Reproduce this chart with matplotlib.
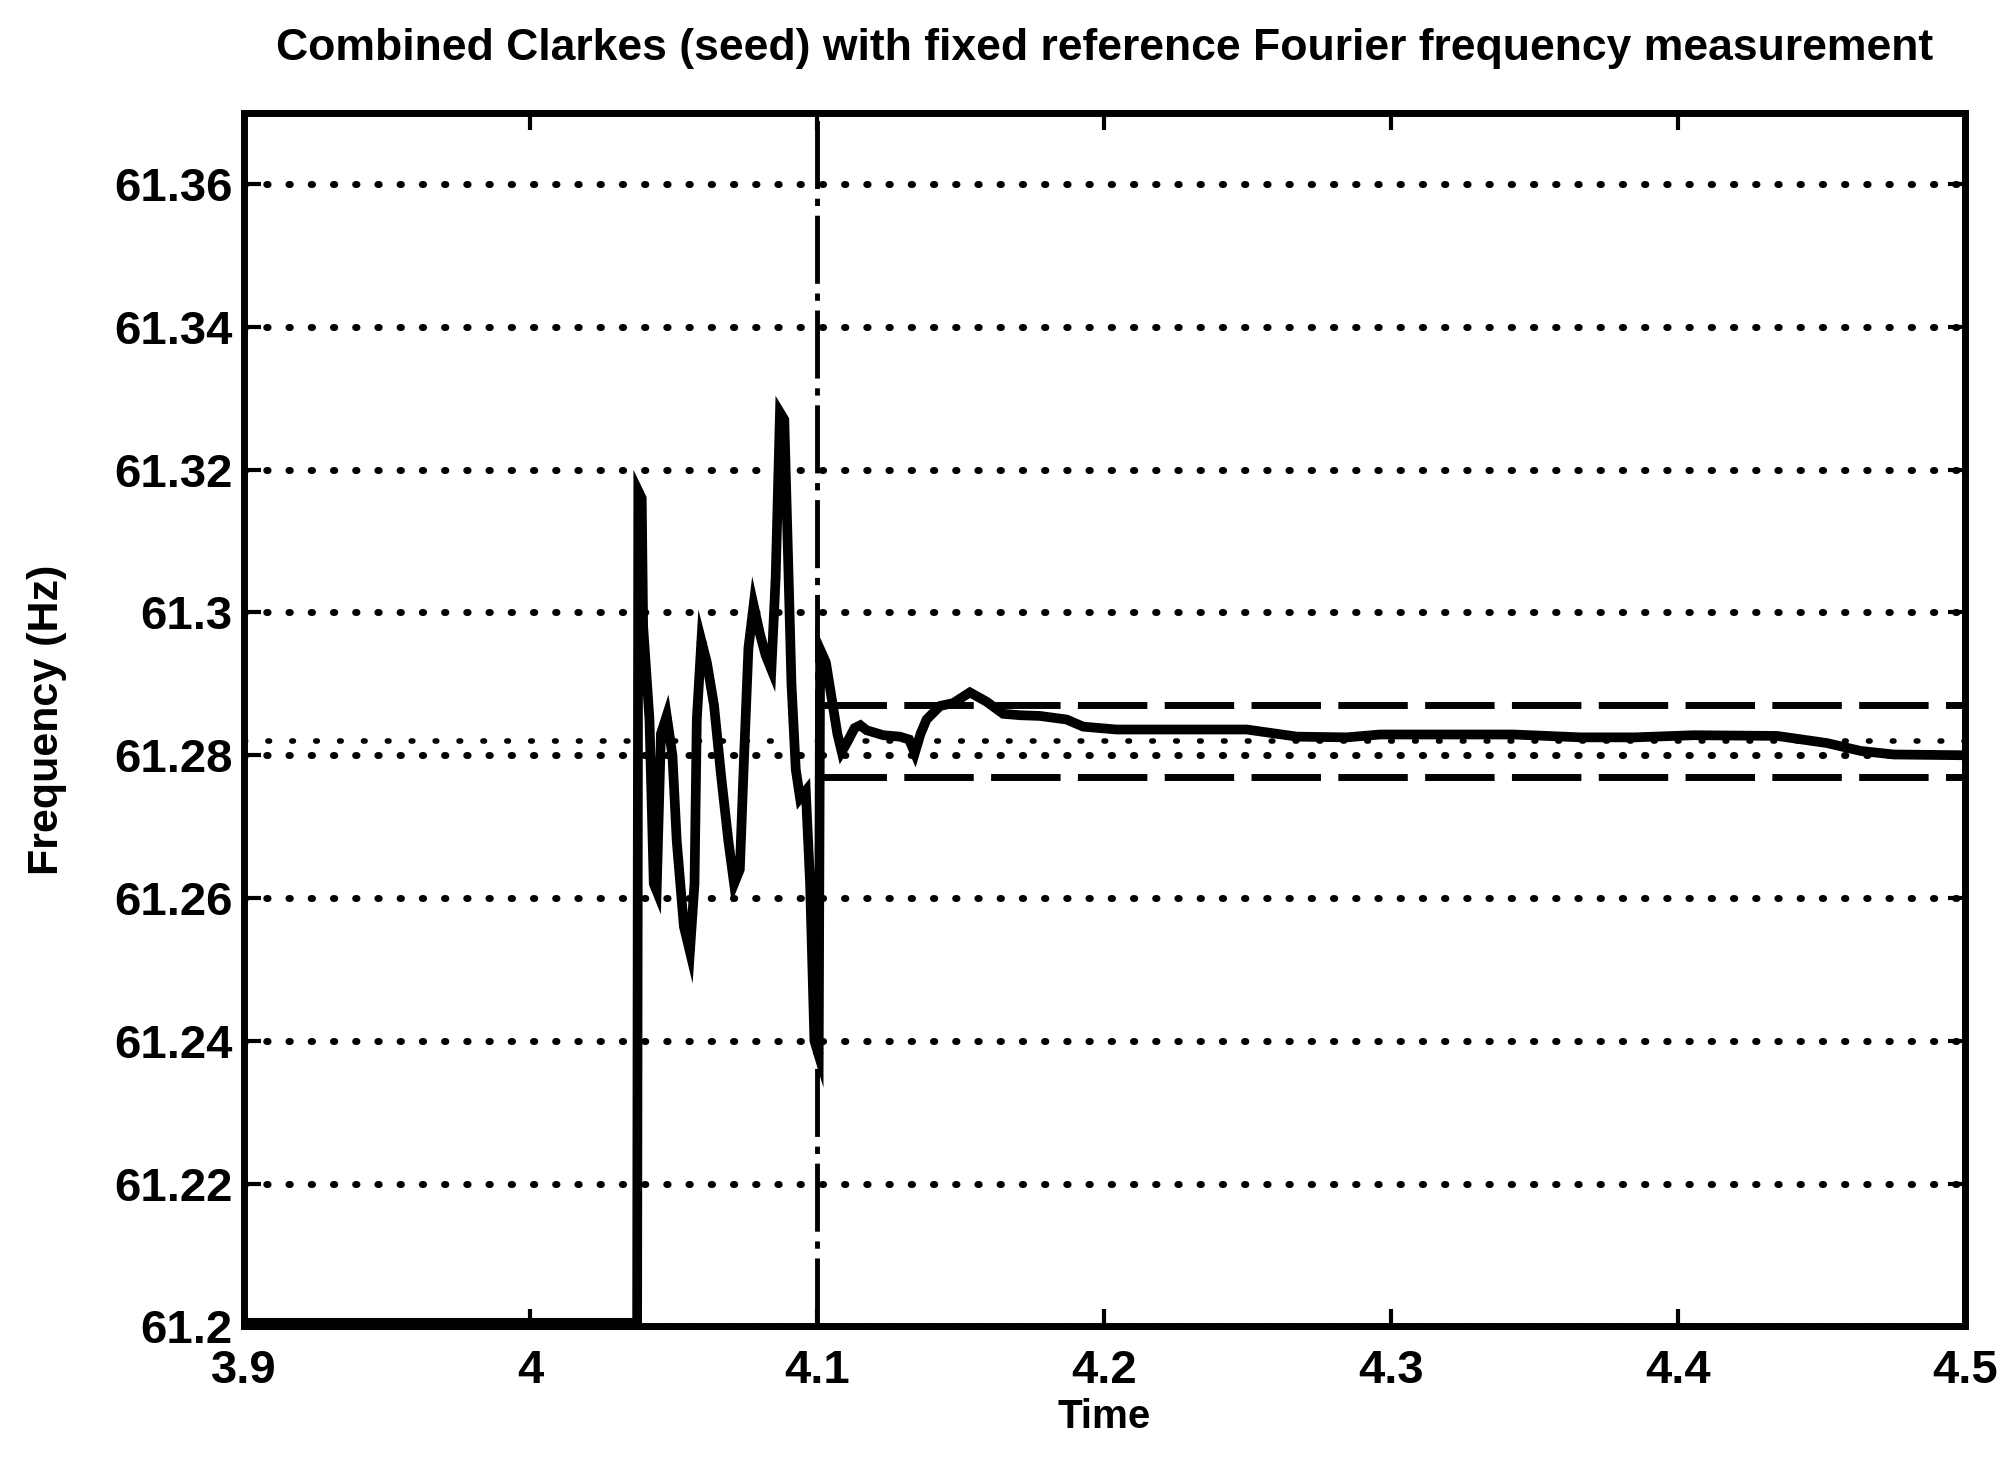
import matplotlib
matplotlib.use("Agg")
import matplotlib.pyplot as plt

plt.rcParams['font.family'] = ['Liberation Sans', 'DejaVu Sans']
plt.rcParams['font.weight'] = 'bold'

t = [3.900, 4.0372, 4.0376, 4.0388, 4.0393, 4.0415, 4.0430, 4.0440, 4.0455, 4.0475,
     4.0495, 4.0510, 4.0535, 4.0556, 4.0572, 4.0580, 4.0596, 4.0615, 4.0640, 4.0665,
     4.0690, 4.0710, 4.0730, 4.0745, 4.0760, 4.0778, 4.0800, 4.0820, 4.0840, 4.0855,
     4.0870, 4.0885, 4.0900, 4.0910, 4.0925, 4.0940, 4.0960, 4.0975, 4.0990, 4.1005,
     4.1010, 4.1030, 4.1050, 4.1070, 4.1085, 4.1100, 4.1130, 4.1150, 4.1172, 4.1230,
     4.1288, 4.1320, 4.1340, 4.1360, 4.1381, 4.1428, 4.1474, 4.1532, 4.1590, 4.1648,
     4.1707, 4.1776, 4.1869, 4.1927, 4.2043, 4.2160, 4.2334, 4.2497, 4.2672, 4.2846,
     4.2962, 4.3195, 4.3427, 4.3660, 4.3850, 4.4055, 4.4346, 4.4520, 4.4637, 4.4753,
     4.4985, 4.5000]
freq = [61.2005, 61.2005, 61.317, 61.316, 61.298, 61.285, 61.262, 61.261, 61.283, 61.2855,
        61.280, 61.268, 61.256, 61.2525, 61.262, 61.285, 61.296, 61.293, 61.287, 61.277,
        61.268, 61.262, 61.264, 61.280, 61.295, 61.301, 61.297, 61.294, 61.292, 61.305,
        61.328, 61.327, 61.305, 61.290, 61.278, 61.274, 61.275, 61.262, 61.240, 61.238,
        61.2948, 61.293, 61.288, 61.283, 61.2805, 61.2815, 61.2838, 61.2842, 61.2835, 61.2828,
        61.2826, 61.2822, 61.2803, 61.2830, 61.2850, 61.2869, 61.2873, 61.2888, 61.2875, 61.2858,
        61.2856, 61.2855, 61.2850, 61.2840, 61.2836, 61.2836, 61.2836, 61.2836, 61.2826, 61.2825,
        61.2829, 61.2829, 61.2829, 61.2825, 61.2825, 61.2828, 61.2827, 61.2817, 61.2806, 61.2801,
        61.2800, 61.2800]

f_ref = 61.282
band = 0.005
t_event = 4.1
t_end = 4.5

xticks = [3.9, 4.0, 4.1, 4.2, 4.3, 4.4, 4.5]
xlabels = ['3.9', '4', '4.1', '4.2', '4.3', '4.4', '4.5']
yticks = [61.2, 61.22, 61.24, 61.26, 61.28, 61.3, 61.32, 61.34, 61.36]
ylabels = ['61.2', '61.22', '61.24', '61.26', '61.28', '61.3', '61.32', '61.34', '61.36']

fig = plt.figure(figsize=(20.13, 14.82), dpi=100)
ax = fig.add_axes([0.121, 0.105, 0.855, 0.819])

ax.set_axisbelow(True)
ax.yaxis.grid(True, color='k', linewidth=5, linestyle=(0, (0.2, 3.0)),
              dash_capstyle='round')
ax.xaxis.grid(False)

ax.plot([3.9, t_end], [f_ref, f_ref], color='k', linewidth=4,
        linestyle=(0, (0.3, 4.0)), dash_capstyle='round')
ax.plot([t_event, t_end], [f_ref + band, f_ref + band], color='k', linewidth=5,
        linestyle=(0, (10, 2.5)))
ax.plot([t_event, t_end], [f_ref - band, f_ref - band], color='k', linewidth=5,
        linestyle=(0, (10, 2.5)))
ax.axvline(t_event, color='k', linewidth=3.5, linestyle=(0, (14, 2, 1.5, 2)))

ax.plot(t, freq, color='k', linewidth=7, solid_joinstyle='miter')

ax.set_xlim(3.9, 4.5)
ax.set_ylim(61.2, 61.37)
ax.set_xticks(xticks)
ax.set_xticklabels(xlabels)
ax.set_yticks(yticks)
ax.set_yticklabels(ylabels)
ax.tick_params(direction='in', length=12, width=3, top=True, right=True,
               labelsize=34)
ax.tick_params(axis='x', pad=16)
ax.tick_params(axis='y', pad=8)

for s in ax.spines.values():
    s.set_linewidth(5)

ax.set_title('Combined Clarkes (seed) with fixed reference Fourier frequency measurement',
             fontsize=32, fontweight='bold', pad=38)
ax.set_xlabel('Time', fontsize=29, fontweight='bold', labelpad=4)
ax.set_ylabel('Frequency (Hz)', fontsize=31, fontweight='bold', labelpad=34)

fig.savefig('out.png', dpi=100)
